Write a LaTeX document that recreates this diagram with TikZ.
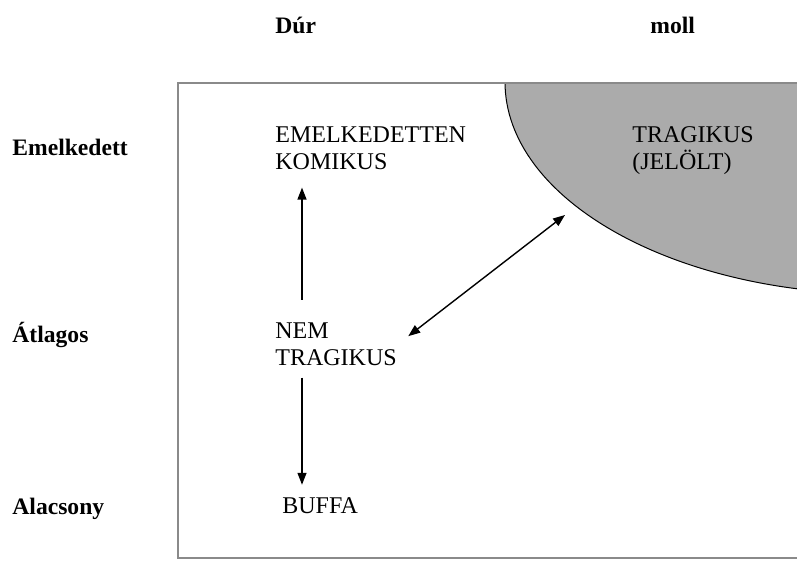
\documentclass[tikz,border=0pt]{standalone}
\usepackage{fontspec}
\setmainfont{Liberation Serif}
\usetikzlibrary{arrows.meta,positioning}
\definecolor{Shade}{HTML}{ABABAB}
\definecolor{FrameGray}{HTML}{8A8A8A}

\begin{document}
\begin{tikzpicture}[
    x=0.5pt, y=-0.5pt,
    lbl/.style={anchor=base west, inner sep=0pt, align=left,
                font=\fontsize{12}{13.5}\selectfont},
    axis/.style={anchor=base west, inner sep=0pt,
                 font=\fontsize{11.8}{13}\selectfont\bfseries},
    arr/.style={-{Triangle[length=6pt,width=4.5pt]}, line width=0.7pt},
    dbl/.style={{Triangle[length=6pt,width=4.5pt]}-{Triangle[length=6pt,width=4.5pt]}, line width=0.7pt},
    frame/.style={draw=FrameGray, line width=1pt}
  ]
    \useasboundingbox (0,0) rectangle (797,565);
    \clip (0,0) rectangle (797,565);
    % marked field (moll)
    \begin{scope}
      \clip (178,83) rectangle (805,558);
      \filldraw[fill=Shade, draw=black, line width=0.5pt]
        (880,82) ellipse [x radius=187.5pt, y radius=106pt];
    \end{scope}
    \draw[frame] (805,83) -| (178,558) -- (805,558);

    % column and row heads
    \node[axis] (dur)  at (275,34)  {Dúr};
    \node[axis] (moll) at (650,34)  {moll};
    \node[axis] (high) at (12,156)  {Emelkedett};
    \node[axis] (mid)  at (12,343)  {Átlagos};
    \node[axis] (low)  at (12,515)  {Alacsony};

    % genres (base = last line)
    \node[lbl] (komikus)  at (275,170) {EMELKEDETTEN\\KOMIKUS};
    \node[lbl] (tragikus) at (632,170) {TRAGIKUS\\(JELÖLT)};
    \node[lbl] (nemtrag)  at (275,366) {NEM\\TRAGIKUS};
    \node[lbl] (buffa)    at (282,514) {BUFFA};

    \coordinate (stem) at (302,0);
    \coordinate (rim)  at (565,215);
    \draw[arr, shorten <=11.5pt, shorten >=8.5pt]
      (nemtrag.north -| stem) -- (komikus.south -| stem);
    \draw[arr, shorten <=5.5pt, shorten >=6.5pt]
      (nemtrag.south -| stem) -- (buffa.north -| stem);
    \draw[dbl, shorten <=7pt] (nemtrag.east) -- (rim);
  \end{tikzpicture}
\end{document}
